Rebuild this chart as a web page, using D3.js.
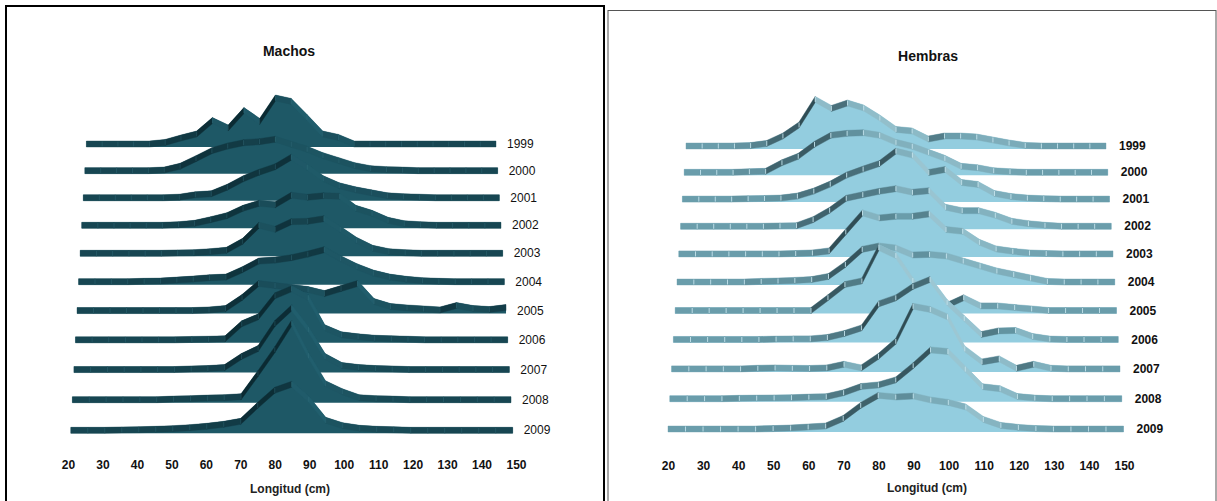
<!DOCTYPE html>
<html>
<head>
<meta charset="utf-8">
<script src="https://cdn.jsdelivr.net/npm/d3@7"></script>
<style>
  html, body { margin: 0; padding: 0; background: #fff; }
  svg { display: block; }
  text { font-family: "Liberation Sans", Arial, sans-serif; }
</style>
</head>
<body>
<svg id="chart" width="1217" height="501"></svg>
<script>
// ---------- DATA ----------
const lengthBins = [20,25,30,35,40,45,50,55,60,65,70,75,80,85,90,95,100,105,110,115,120,125,130,135,140,145,150];
const years = ["1999","2000","2001","2002","2003","2004","2005","2006","2007","2008","2009"];
const xTicks = [20,30,40,50,60,70,80,90,100,110,120,130,140,150];

// Machos: relative frequency by 5 cm length class
const m1999 = [0,0,0,0,0,0.8,3,5,11.7,8,16.7,11.3,23,21.3,13.3,5,3.3,0,0,0,0,0,0,0,0,0,0];
const m2000 = [0,0,0,0,0,0.3,2.2,6,10,12.3,14,14.5,15.7,13.2,10.7,7.5,5,2.5,1,0.5,0.3,0,0,0,0,0,0];
const m2001 = [0,0,0,0,0,0,0.3,1.5,2,5.3,9.5,12.8,15.5,20.3,15.3,9.5,6,4,2.5,1,0.5,0.3,0,0,0,0,0];
const m2002 = [0,0,0,0,0,0,0.3,1,2.8,4.8,8.5,11,10.3,15,14,14.8,14.5,8.5,6,2.5,0.8,0.3,0,0,0,0,0];
const m2003 = [0,0,0,0,0,0,0.2,0.3,0.8,1.5,6,14,12,15.8,16,17.3,12,6.5,2.5,0.8,0.3,0,0,0,0,0,0];
const m2004 = [0,0,0,0,0.2,0.3,0.8,1.3,2,2.3,6,10.3,10.8,12,13.8,16,11.5,7.5,4.3,2.3,1.2,0.5,0.2,0,0,0,0];
const m2005 = [0,0,0,0,0,0,0,0,0.3,1,6.5,13.5,12.5,11.5,10.5,8.5,11,13.5,4.5,2,1.3,0.8,0.3,2.5,1,0.5,1.5];
const m2006 = [0,0,0,0,0,0,0,0.2,0.3,0.5,8,11.5,22,25.5,21,6,2.5,1.5,0.8,0.5,0.3,0,0,0,0,0,0];
const m2007 = [0,0,0,0,0,0,0,0.3,0.5,1,6.5,10.5,23,30.8,20,6.5,2,1,0.5,0.3,0,0,0,0,0,0,0];
const m2008 = [0,0,0,0,0,0,0.3,0.5,0.8,1,1.5,13,25,38.3,22,8,4,1,0.5,0.3,0,0,0,0,0,0,0];
const m2009 = [0,0,0,0.2,0.3,0.5,0.8,1.3,2,3,4.5,12.5,20,23,15.5,5,2.3,1,0.5,0.3,0,0,0,0,0,0,0];

// Hembras
const h1999 = [0,0,0,0,0.2,1.3,5,10.5,23.3,18.8,21.5,19,14,8.3,7.5,3.5,5,5,4.5,3,1.5,0.3,0,0,0,0,0];
const h2000 = [0,0,0,0,0.3,0.5,4.8,8,14,18.5,19.5,19.8,18.5,15,13,10,7,3,2.3,0.8,0.3,0,0,0,0,0,0];
const h2001 = [0,0,0,0,0.2,0.3,0.5,1.5,4,7.5,12,15,17.8,24,22,13.3,14.8,8.3,7.3,2.8,1.3,0.5,0.2,0,0,0,0];
const h2002 = [0,0,0,0,0,0,0.2,0.3,3.3,8,14,15.8,17.5,18.8,17,17.8,9.5,7.8,7.8,5.5,2.5,1.3,0.5,0,0,0,0];
const h2003 = [0,0,0,0,0,0,0,0.2,0.5,1.5,11,20.5,18,18.8,18.8,20,12.2,11.3,5.8,2.5,1.3,0.5,0.2,0,0,0,0];
const h2004 = [0,0,0,0,0,0.3,0.5,0.8,1.2,2.8,8.8,16.3,18,17,13.5,13.8,13,10.5,8,5.5,3.8,2,0.3,0,0,0,0];
const h2005 = [0,0,0,0,0,0,0,0,0,6.4,13,14.8,31.5,27.5,15,4.5,2.5,6.4,2.3,2.3,1.5,0.8,0,0,0,0,0];
const h2006 = [0,0,0,0,0,0,0.2,0.3,0.3,1,3,5.8,17.8,20.8,26.5,30,18.5,10.5,2.5,4.3,4.5,1.5,0.2,0,0,0,0];
const h2007 = [0,0,0,0,0,0.3,0.5,0.3,0.2,0.5,2.3,0.5,6.3,13.8,31.3,29.7,26,10,3.5,5,0.3,2.3,0.3,0,0,0,0];
const h2008 = [0,0,0,0,0.2,0.3,0.4,0.5,0.8,1,3,6.1,6.9,9.4,16.5,24.4,23.6,14.8,6,5,1.1,0.3,0,0,0,0,0];
const h2009 = [0,0,0,0,0,0,0.2,0.5,1,1.5,5.3,11.8,16.8,16,16.5,14.5,13.3,11,4.8,1.8,0.8,0.2,0,0,0,0,0];

const machosSeries = [m1999,m2000,m2001,m2002,m2003,m2004,m2005,m2006,m2007,m2008,m2009];
const hembrasSeries = [h1999,h2000,h2001,h2002,h2003,h2004,h2005,h2006,h2007,h2008,h2009];

// ---------- DRAW ----------
const svg = d3.select("#chart");
const FONT = '"Liberation Sans", Arial, sans-serif';

function drawPanel(cfg) {
  const g = svg.append("g");
  g.append("rect")
    .attr("x", cfg.box[0]).attr("y", cfg.box[1])
    .attr("width", cfg.box[2]).attr("height", cfg.box[3])
    .attr("fill", "#fff").attr("stroke", cfg.boxStroke).attr("stroke-width", cfg.boxWidth);

  g.append("text")
    .attr("x", cfg.titleX).attr("y", cfg.titleY)
    .attr("text-anchor", "middle").attr("dominant-baseline", "middle")
    .attr("font-size", 14).attr("font-weight", "bold").attr("fill", "#111")
    .text(cfg.title);

  const hScale = d3.scaleLinear().domain([0, 10]).range([0, 20]); // 2 px per unit
  const T = 6; // ribbon thickness

  cfg.series.forEach((vals, i) => {
    const left = cfg.left0 + cfg.leftStep * i;
    const right = cfg.right0 + cfg.rightStep * i;
    const center = cfg.c0 + cfg.c1 * i + cfg.c2 * i * i;
    const top = center - T / 2;
    const xs = d3.scaleLinear().domain([20, 150]).range([left, right]);
    const pts = lengthBins.map((b, j) => [xs(b), top - hScale(vals[j])]);

    const row = g.append("g");
    row.append("path")
      .attr("d", d3.area().x(d => d[0]).y0(top + T).y1(d => d[1])(pts))
      .attr("fill", cfg.fill);

    for (let j = 0; j < pts.length - 1; j++) {
      const [x1, y1] = pts[j], [x2, y2] = pts[j + 1];
      const a = Math.atan2(-(y2 - y1), x2 - x1) / (Math.PI / 2);
      let col;
      if (a > 0.01) col = d3.interpolateRgb(cfg.flat, cfg.dark)(Math.min(1, Math.pow(a * 1.8, 0.6)));
      else if (a < -0.01) col = d3.interpolateRgb(cfg.flat, cfg.light)(Math.min(1, Math.pow(-a * 1.8, 0.6)));
      else col = cfg.flat;
      row.append("path")
        .attr("d", d3.line()([[x1, y1], [x2, y2], [x2, y2 + T], [x1, y1 + T]]) + "Z")
        .attr("fill", col).attr("stroke", col).attr("stroke-width", 0.4);
    }
    pts.slice(1, -1).forEach(p => {
      row.append("line")
        .attr("x1", p[0]).attr("x2", p[0])
        .attr("y1", p[1] + 0.5).attr("y2", p[1] + T - 0.5)
        .attr("stroke", cfg.sep).attr("stroke-width", 1).attr("opacity", cfg.sepOpacity);
    });

    g.append("text")
      .attr("x", right + cfg.labelGap).attr("y", center + 1)
      .attr("dominant-baseline", "middle")
      .attr("font-size", 12).attr("font-weight", cfg.labelWeight).attr("fill", "#111")
      .text(years[i]);
  });

  const xAxisScale = d3.scaleLinear().domain([20, 150]).range(cfg.axisRange);
  const ax = g.append("g")
    .attr("transform", `translate(0,${cfg.axisY})`)
    .call(d3.axisBottom(xAxisScale).tickValues(xTicks).tickSize(0).tickPadding(0).tickFormat(d3.format("d")));
  ax.select(".domain").remove();
  ax.selectAll("text")
    .attr("font-family", FONT).attr("font-size", 12).attr("font-weight", "bold")
    .attr("fill", "#111").attr("dy", "0.35em").attr("y", 0);

  g.append("text")
    .attr("x", cfg.axisTitleX).attr("y", cfg.axisTitleY)
    .attr("text-anchor", "middle").attr("dominant-baseline", "middle")
    .attr("font-size", 12).attr("font-weight", "bold").attr("fill", "#222")
    .text("Longitud (cm)");
}

drawPanel({
  title: "Machos", titleX: 289, titleY: 52,
  box: [6, 6, 598, 520], boxStroke: "#000", boxWidth: 2,
  series: machosSeries,
  left0: 86.4, leftStep: -1.56, right0: 496, rightStep: 1.67,
  c0: 144, c1: 26.45, c2: 0.218,
  fill: "#1e5866", flat: "#174652", dark: "#0b2a32", light: "#215e6d",
  sep: "#3e7886", sepOpacity: 0.35,
  labelGap: 11, labelWeight: "normal",
  axisRange: [68, 516], axisY: 465,
  axisTitleX: 290, axisTitleY: 490
});

drawPanel({
  title: "Hembras", titleX: 928, titleY: 57,
  box: [608, 10.5, 608, 520], boxStroke: "#555", boxWidth: 1,
  series: hembrasSeries,
  left0: 686, leftStep: -1.8, right0: 1106, rightStep: 1.75,
  c0: 146, c1: 26.1, c2: 0.22,
  fill: "#93cddf", flat: "#6a9dab", dark: "#2f4c54", light: "#9cc7d3",
  sep: "#c4e3ec", sepOpacity: 0.9,
  labelGap: 13, labelWeight: "bold",
  axisRange: [668, 1124], axisY: 466,
  axisTitleX: 927, axisTitleY: 489
});
</script>
</body>
</html>
